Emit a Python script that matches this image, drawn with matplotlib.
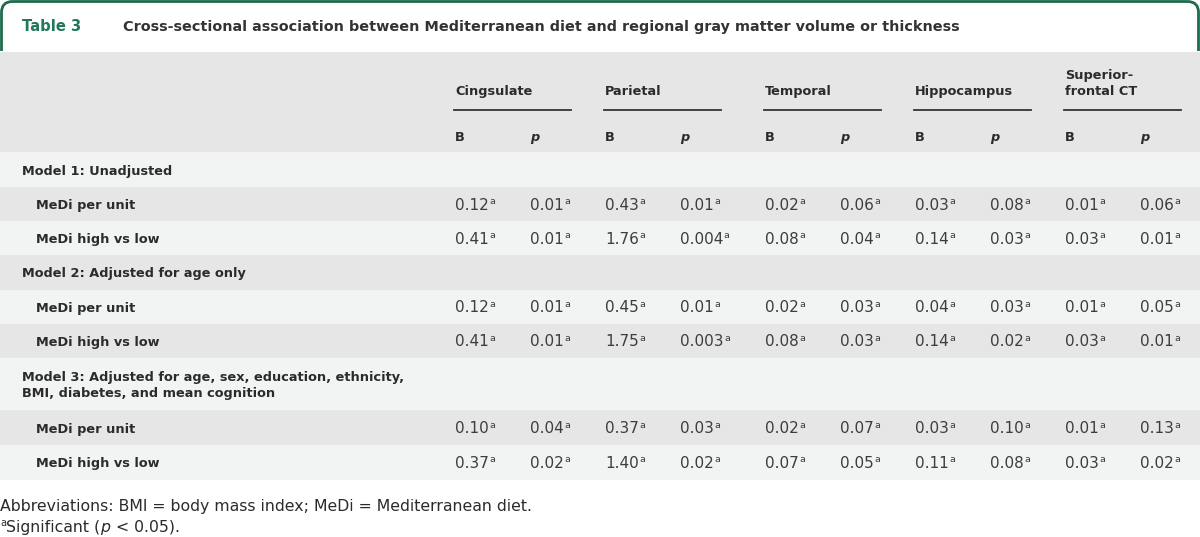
import matplotlib
matplotlib.use('Agg')
import matplotlib.pyplot as plt
from matplotlib.path import Path
from matplotlib.patches import PathPatch, Rectangle

# Table content
title_tag = 'Table 3'
title = 'Cross-sectional association between Mediterranean diet and regional gray matter volume or thickness'
regions = ['Cingsulate', 'Parietal', 'Temporal', 'Hippocampus', 'Superior-\nfrontal CT']
models = ['Model 1: Unadjusted',
          'Model 2: Adjusted for age only',
          'Model 3: Adjusted for age, sex, education, ethnicity,\nBMI, diabetes, and mean cognition']
sub_rows = ['MeDi per unit', 'MeDi high vs low']

# one list per column, rows in order: M1 unit, M1 high, M2 unit, M2 high, M3 unit, M3 high
cing_B = ['0.12', '0.41', '0.12', '0.41', '0.10', '0.37']
cing_p = ['0.01', '0.01', '0.01', '0.01', '0.04', '0.02']
par_B = ['0.43', '1.76', '0.45', '1.75', '0.37', '1.40']
par_p = ['0.01', '0.004', '0.01', '0.003', '0.03', '0.02']
temp_B = ['0.02', '0.08', '0.02', '0.08', '0.02', '0.07']
temp_p = ['0.06', '0.04', '0.03', '0.03', '0.07', '0.05']
hip_B = ['0.03', '0.14', '0.04', '0.14', '0.03', '0.11']
hip_p = ['0.08', '0.03', '0.03', '0.02', '0.10', '0.08']
sup_B = ['0.01', '0.03', '0.01', '0.03', '0.01', '0.03']
sup_p = ['0.06', '0.01', '0.05', '0.01', '0.13', '0.02']
columns = [cing_B, cing_p, par_B, par_p, temp_B, temp_p, hip_B, hip_p, sup_B, sup_p]

footnote1 = 'Abbreviations: BMI = body mass index; MeDi = Mediterranean diet.'

# layout / style
W, H = 1200, 537
GREEN = '#1d6b4b'
GREEN_TXT = '#21795a'
GRAY = '#e6e6e6'
LIGHT = '#f2f3f3'
TXT = '#2b2b2b'
VAL = '#3d3d3d'
FONT = 'DejaVu Sans'
B_x = [455, 605, 765, 915, 1065]
p_off = 75

fig = plt.figure(figsize=(W / 100, H / 100), dpi=100)
ax = fig.add_axes([0, 0, 1, 1])
ax.set_xlim(0, W)
ax.set_ylim(H, 0)
ax.axis('off')
renderer = fig.canvas.get_renderer()


def width_of(t):
    return t.get_window_extent(renderer).width


def sup_text(x, y, s, size, color, weight='normal'):
    t = ax.text(x, y, s, fontsize=size, color=color, family=FONT,
                weight=weight, va='baseline', ha='left')
    w = width_of(t)
    ax.text(x + w + 0.5, y - 5.5, 'a', fontsize=size * 0.62, color=color,
            family=FONT, va='baseline', ha='left')


# title frame: open-bottom rounded rectangle
r = 11
x0, x1, y0, y1 = 1.5, W - 1.5, 1.5, 51
verts = [(x0, y1), (x0, y0 + r), (x0, y0), (x0 + r, y0), (x1 - r, y0),
         (x1, y0), (x1, y0 + r), (x1, y1)]
codes = [Path.MOVETO, Path.LINETO, Path.CURVE3, Path.CURVE3, Path.LINETO,
         Path.CURVE3, Path.CURVE3, Path.LINETO]
ax.add_patch(PathPatch(Path(verts, codes), fill=False, ec=GREEN, lw=2.0,
                       capstyle='butt'))
ax.text(22, 31, title_tag, fontsize=10.6, weight='bold', color=GREEN_TXT,
        family=FONT, va='baseline')
ax.text(123, 31, title, fontsize=10.4, weight='bold', color='#333333',
        family=FONT, va='baseline')

# row bands
bands = [(52, 152)]
row_h = [35, 34, 34, 35, 34, 34, 52, 35, 35]
y = 152
for h in row_h:
    bands.append((y, y + h))
    y += h
for i, (a, b) in enumerate(bands):
    ax.add_patch(Rectangle((0, a), W, b - a, color=GRAY if i % 2 == 0 else LIGHT, lw=0))

# column headers
for i, name in enumerate(regions):
    x = B_x[i]
    ax.text(x, 95, name, fontsize=9.3, weight='bold', color=TXT, family=FONT,
            va='baseline', linespacing=1.25)
    ax.plot([x - 1, x + 116], [109.5, 109.5], color='#333333', lw=1.3)
    ax.text(x, 141, 'B', fontsize=9.3, weight='bold', color=TXT, family=FONT,
            va='baseline')
    ax.text(x + p_off, 141, 'p', fontsize=9.3, weight='bold', style='italic',
            color=TXT, family=FONT, va='baseline')

# body
k = 0
ri = 1
for m, model in enumerate(models):
    a, b = bands[ri]
    nlines = model.count('\n') + 1
    # baseline anchor of multi-line text sits on its last line
    base = (a + b) / 2 + 5 + (nlines - 1) * 8.5
    ax.text(22, base, model, fontsize=9.3, weight='bold', color=TXT,
            family=FONT, va='baseline', linespacing=1.3)
    ri += 1
    for sub in sub_rows:
        a, b = bands[ri]
        base = (a + b) / 2 + 5.5
        ax.text(36, base - 0.5, sub, fontsize=9.3, weight='bold', color=TXT,
                family=FONT, va='baseline')
        for c, col in enumerate(columns):
            x = B_x[c // 2] + (p_off if c % 2 else 0)
            sup_text(x, base, col[k], 11, VAL)
        k += 1
        ri += 1

# footnotes
ax.text(0, 511.5, footnote1, fontsize=11.3, color=TXT, family=FONT, va='baseline')
ax.text(0, 525.5, 'a', fontsize=7, color=TXT, family=FONT, va='baseline')
xx = 6
for s, st in [('Significant (', 'normal'), ('p', 'italic'), (' < 0.05).', 'normal')]:
    t = ax.text(xx, 532, s, fontsize=11.3, color=TXT, family=FONT,
                style=st, va='baseline')
    xx += width_of(t) + (1 if st == 'italic' else 0)

fig.savefig('out.png', dpi=100)
